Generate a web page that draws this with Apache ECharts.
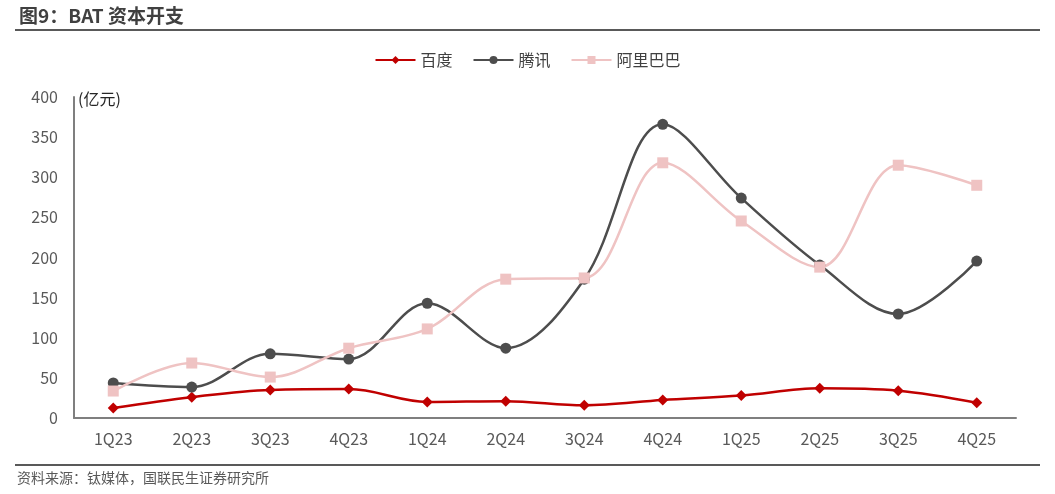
<!DOCTYPE html>
<html><head><meta charset="utf-8">
<script src="https://cdn.jsdelivr.net/npm/echarts@6/dist/echarts.min.js"></script>
<style>html,body{margin:0;padding:0;background:#fff}#c{width:1055px;height:494px}</style>
</head><body><div id="c"></div>
<script>
const categories = ['1Q23','2Q23','3Q23','4Q23','1Q24','2Q24','3Q24','4Q24','1Q25','2Q25','3Q25','4Q25'];
const baidu   = [12.5, 26, 35, 36, 20, 21, 16, 22.5, 28, 37, 34, 19];
const tencent = [43.6, 38.6, 80, 73.5, 143, 87, 173, 366, 274, 190.6, 129.6, 195.6];
const alibaba = [33.6, 68.5, 51, 87, 111, 173, 174.5, 318, 245.5, 188, 315, 290];
const yTicks = [0, 50, 100, 150, 200, 250, 300, 350, 400];
const FONT = '"Noto Sans CJK SC", "Noto Sans", sans-serif';
const chart = echarts.init(document.getElementById('c'));
const mkSeries = (name, data, color, symbol, size) => ({
  name, type: 'line', data, smooth: 0.35, symbol, symbolSize: size,
  lineStyle: {color, width: 2.5}, itemStyle: {color}, z: 3
});
chart.setOption({
  animation: false,
  textStyle: {fontFamily: FONT},
  title: {text: '图9：BAT 资本开支', left: 14, top: 1,
    textStyle: {fontFamily: FONT, fontSize: 19, fontWeight: 'bold', color: '#404040'}},
  legend: {top: 47, left: 'center', itemWidth: 40, itemHeight: 10, itemGap: 20,
    textStyle: {fontFamily: FONT, fontSize: 16, color: '#404040'},
    data: ['百度','腾讯','阿里巴巴']},
  grid: {left: 74, right: 39, top: 97, bottom: 76},
  xAxis: {type: 'category', data: categories, boundaryGap: true,
    axisLine: {lineStyle: {color: '#7f7f7f', width: 2}}, axisTick: {show: false},
    axisLabel: {fontFamily: FONT, fontSize: 16, color: '#595959', margin: 13}},
  yAxis: {type: 'value', min: yTicks[0], max: yTicks[yTicks.length-1], interval: 50,
    splitLine: {show: false},
    axisLine: {show: true, lineStyle: {color: '#7f7f7f', width: 2}}, axisTick: {show: false},
    axisLabel: {fontFamily: FONT, fontSize: 16, color: '#595959', margin: 16}},
  graphic: [
    {type: 'rect', shape: {x: 15, y: 29, width: 1025, height: 2}, style: {fill: '#595959'}},
    {type: 'rect', shape: {x: 15, y: 464, width: 1025, height: 2}, style: {fill: '#595959'}},
    {type: 'text', left: 78, top: 91, style: {text: '(亿元)', fontFamily: FONT, fontSize: 16, fill: '#262626'}},
    {type: 'text', left: 17, top: 471, style: {text: '资料来源：钛媒体，国联民生证券研究所', fontFamily: FONT, fontSize: 14, fill: '#595959'}}
  ],
  series: [
    mkSeries('百度', baidu, '#c00000', 'diamond', 11),
    mkSeries('腾讯', tencent, '#4d4d4d', 'circle', 11),
    mkSeries('阿里巴巴', alibaba, '#efc3c3', 'rect', 11)
  ]
});
</script></body></html>
